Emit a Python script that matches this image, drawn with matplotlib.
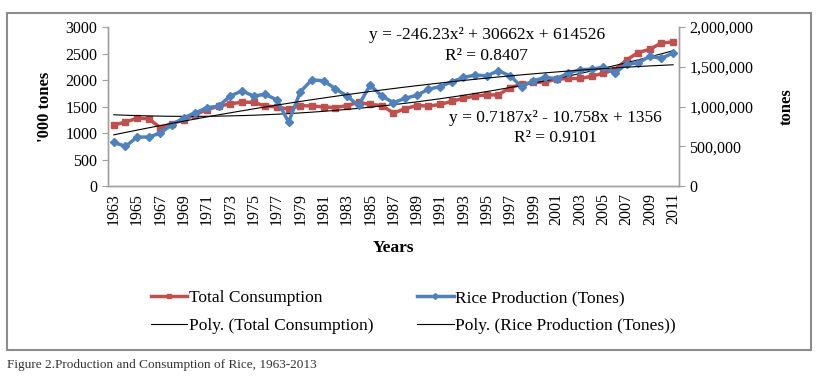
import numpy as np
import matplotlib
matplotlib.use('Agg')
import matplotlib.pyplot as plt
from matplotlib.lines import Line2D
from matplotlib.patches import Rectangle
from matplotlib.ticker import FuncFormatter

plt.rcParams['font.family'] = 'Liberation Serif'

years = list(range(1963, 2012))

# '000 tones, left axis
consumption = [1150, 1210, 1280, 1270, 1100, 1180, 1250, 1350, 1440, 1510,
               1550, 1585, 1580, 1510, 1495, 1450, 1520, 1510, 1495, 1480,
               1520, 1580, 1540, 1520, 1380, 1460, 1520, 1510, 1540, 1600,
               1655, 1700, 1720, 1720, 1860, 1920, 1955, 1965, 2015, 2030,
               2030, 2070, 2130, 2195, 2380, 2520, 2580, 2700, 2720]

# tones, right axis
production = [550000, 499000, 617000, 617000, 668000, 774000, 859000, 922000, 985000, 1007000,
              1133000, 1197000, 1133000, 1155000, 1083000, 805000, 1185000, 1337000, 1324000, 1227000,
              1133000, 1015000, 1269000, 1133000, 1049000, 1104000, 1142000, 1218000, 1252000, 1311000,
              1366000, 1396000, 1387000, 1451000, 1387000, 1252000, 1324000, 1366000, 1353000, 1421000,
              1463000, 1472000, 1493000, 1421000, 1535000, 1548000, 1633000, 1607000, 1675000]

# trendline coefficients as printed on the chart (x = 1..49)
cons_coef = [0.7187, -10.758, 1356]
prod_coef = [-246.23, 30662, 614526]

RED = '#C0504D'
BLUE = '#4F81BD'
GRAY = '#A0A0A0'

fig = plt.figure(figsize=(8.18, 3.76), dpi=100)
ax = fig.add_axes([0.132, 0.505, 0.698, 0.423])
ax2 = ax.twinx()

pos = np.arange(len(years))
xi = pos + 1

ax.plot(pos, consumption, color=RED, lw=2.5, marker='s', ms=5, zorder=3)
ax2.plot(pos, production, color=BLUE, lw=2.5, marker='D', ms=4.5, zorder=3)
ax.plot(pos, np.polyval(cons_coef, xi), color='black', lw=0.8, zorder=4)
ax2.plot(pos, np.polyval(prod_coef, xi), color='black', lw=0.8, zorder=4)

ax.set_xlim(-0.5, len(years) - 0.5)
ax.set_ylim(0, 3000)
ax2.set_ylim(0, 2000000)
ax.set_yticks(range(0, 3001, 500))
ax2.set_yticks(range(0, 2000001, 500000))
ax2.yaxis.set_major_formatter(FuncFormatter(lambda v, p: f'{int(v):,}'))

ax.set_xticks(pos[::2])
ax.set_xticklabels([str(y) for y in years[::2]], rotation=90, fontsize=11.5)
ax.tick_params(axis='x', length=0, pad=5)
ax.tick_params(axis='y', labelsize=11.5, color=GRAY, length=4)
ax2.tick_params(axis='y', labelsize=11.5, color=GRAY, length=4)

for a in (ax, ax2):
    a.spines['top'].set_visible(False)
    for s in ('left', 'right', 'bottom'):
        a.spines[s].set_color(GRAY)
        a.spines[s].set_linewidth(1)

ax.set_ylabel("'000 tones", fontsize=12, fontweight='bold', labelpad=9)
ax2.set_ylabel('tones', fontsize=12, fontweight='bold', labelpad=18)
ax.set_xlabel('Years', fontsize=12.5, fontweight='bold', labelpad=11)

ax.text(0.664, 0.95, 'y = -246.23x² + 30662x + 614526', transform=ax.transAxes,
        ha='center', va='center', fontsize=12.5)
ax.text(0.662, 0.818, 'R² = 0.8407', transform=ax.transAxes, ha='center', va='center', fontsize=12.5)
ax.text(0.783, 0.428, 'y = 0.7187x² - 10.758x + 1356', transform=ax.transAxes,
        ha='center', va='center', fontsize=12.5)
ax.text(0.783, 0.302, 'R² = 0.9101', transform=ax.transAxes, ha='center', va='center', fontsize=12.5)

handles = [
    Line2D([], [], color=RED, lw=2.5, marker='s', ms=3),
    Line2D([], [], color='black', lw=0.8),
    Line2D([], [], color=BLUE, lw=2.5, marker='D', ms=3),
    Line2D([], [], color='black', lw=0.8),
]
labels = ['Total Consumption', 'Poly. (Total Consumption)',
          'Rice Production (Tones)', 'Poly. (Rice Production (Tones))']
fig.legend(handles, labels, ncol=2, loc='center', bbox_to_anchor=(0.5055, 0.17),
           frameon=False, fontsize=12.5, handlelength=2.1, handletextpad=0.1,
           columnspacing=2.5, labelspacing=0.7)

fig.patches.append(Rectangle((0.009, 0.069), 0.983, 0.897, transform=fig.transFigure,
                             fill=False, edgecolor='#8C8C8C', lw=1.5))
fig.text(0.009, 0.03, 'Figure 2.Production and Consumption of Rice, 1963-2013',
         fontsize=9.5, color='#333333', va='center')

fig.savefig('out.png', dpi=100, facecolor='white')
